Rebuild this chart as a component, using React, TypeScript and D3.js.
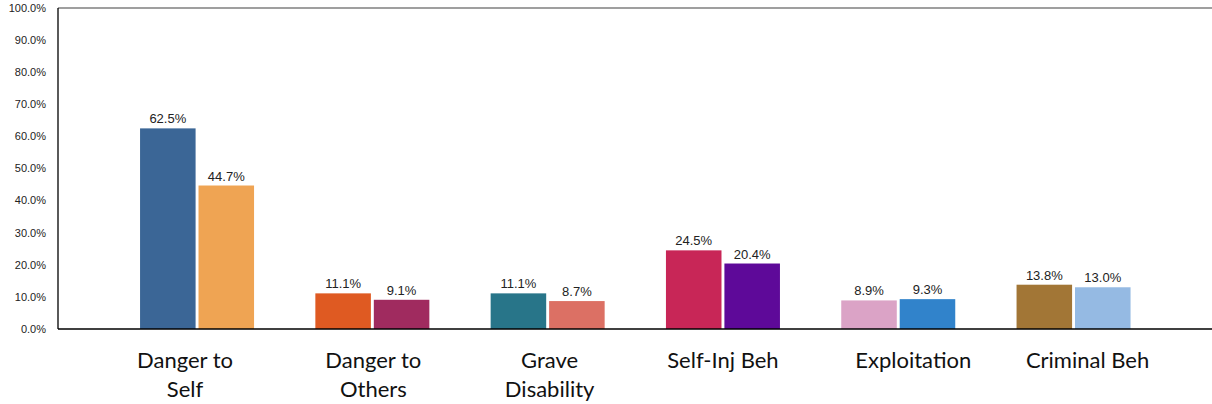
import React from "react";
import * as d3 from "d3";

const categories: string[][] = [
  ["Danger to", "Self"],
  ["Danger to", "Others"],
  ["Grave", "Disability"],
  ["Self-Inj Beh"],
  ["Exploitation"],
  ["Criminal Beh"],
];
const seriesA = [62.5, 11.1, 11.1, 24.5, 8.9, 13.8];
const seriesB = [44.7, 9.1, 8.7, 20.4, 9.3, 13.0];
const colorsA = ["#3B6696", "#DF5A22", "#287589", "#C82657", "#DBA3C6", "#A27636"];
const colorsB = ["#EFA453", "#A02B5F", "#DC7064", "#5E0999", "#3183CB", "#95BAE3"];
const yTicks = [0, 10, 20, 30, 40, 50, 60, 70, 80, 90, 100];

// horizontal nudges of the category labels relative to their bar groups (layout only)
const labelDx = [-12, 1, 2, 0, 15, 14];

export default function App() {
  const W = 1212;
  const H = 404;
  const left = 58;
  const top = 8;
  const bottom = 329;
  const y = d3.scaleLinear().domain([0, 100]).range([bottom, top]);
  const keys = categories.map((c) => c.join(" "));
  const x0 = d3.scaleBand<string>().domain(keys).range([109.4, 1161.2]).paddingInner(0).paddingOuter(0);
  const x1 = d3.scaleBand<number>().domain([0, 1]).range([0, 114]).paddingInner(0.05);
  const fmt = (v: number) => v.toFixed(1) + "%";

  return (
    <svg width={W} height={H} style={{ position: "absolute", left: 0, top: 0, background: "#fff" }}>
      <line x1={left} x2={W} y1={top} y2={top} stroke="#7f7f7f" strokeWidth={1.5} />
      <line x1={left} x2={left} y1={top} y2={bottom} stroke="#000" strokeWidth={1.3} />
      {yTicks.map((t) => (
        <text
          key={t}
          x={46}
          y={y(t)}
          dy="0.35em"
          textAnchor="end"
          fontFamily="Liberation Sans, Arial, sans-serif"
          fontSize={11}
          fill="#222"
        >
          {t.toFixed(1) + "%"}
        </text>
      ))}
      {keys.map((k, i) => {
        const gx = x0(k)! + x0.bandwidth() / 2 - 57;
        const vals = [seriesA[i], seriesB[i]];
        const cols = [colorsA[i], colorsB[i]];
        return (
          <g key={k} transform={`translate(${gx},0)`}>
            {vals.map((v, j) => (
              <g key={j}>
                <rect x={x1(j)} y={y(v)} width={x1.bandwidth()} height={bottom - y(v)} fill={cols[j]} />
                <text
                  x={x1(j)! + x1.bandwidth() / 2}
                  y={y(v) - 5}
                  textAnchor="middle"
                  fontFamily="Liberation Sans, Arial, sans-serif"
                  fontSize={13}
                  fill="#222"
                >
                  {fmt(v)}
                </text>
              </g>
            ))}
          </g>
        );
      })}
      <line x1={left} x2={W} y1={bottom} y2={bottom} stroke="#000" strokeWidth={1.5} />
      {categories.map((lines, i) => {
        const cx = x0(keys[i])! + x0.bandwidth() / 2 + labelDx[i];
        return (
          <text
            key={i}
            x={cx}
            textAnchor="middle"
            fontFamily="Lato, Open Sans, sans-serif"
            fontSize={22}
            fill="#111"
          >
            {lines.map((l, j) => (
              <tspan key={j} x={cx} y={368 + j * 29}>
                {l}
              </tspan>
            ))}
          </text>
        );
      })}
    </svg>
  );
}
